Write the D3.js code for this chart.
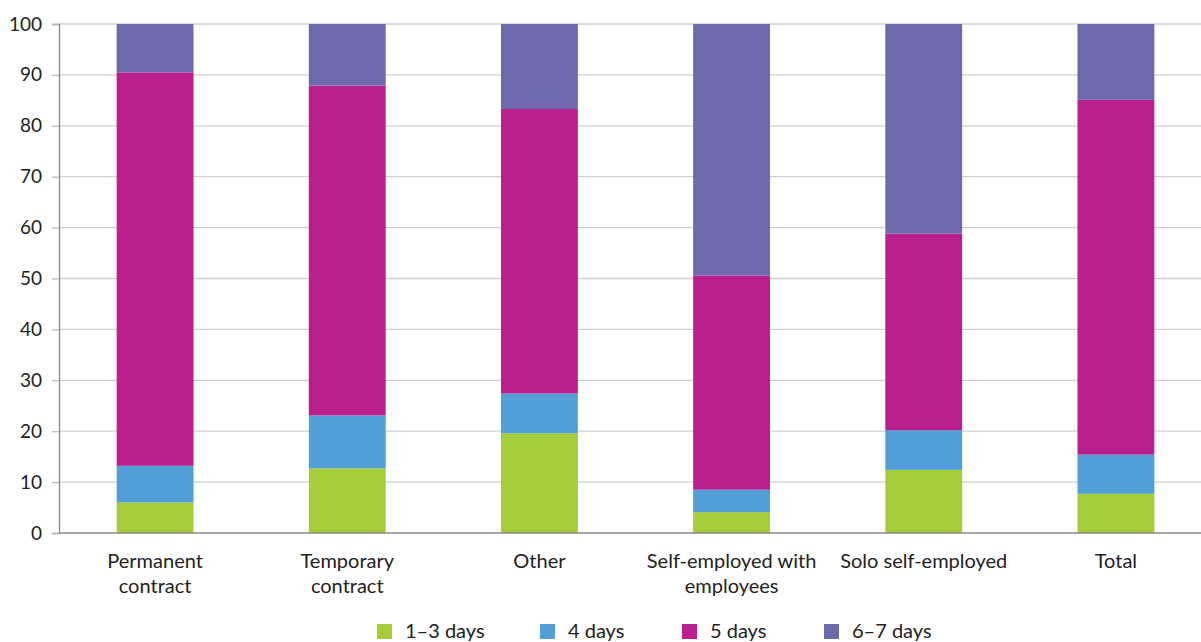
<!DOCTYPE html>
<html><head><meta charset="utf-8">
<script src="https://cdn.jsdelivr.net/npm/d3@7"></script>
<style>body{margin:0;background:#fff}svg{display:block}text{font-family:Lato,"Noto Sans",sans-serif;fill:#222}</style>
</head><body>
<svg id="c" width="1201" height="642"></svg>
<script>
const categories = ["Permanent contract","Temporary contract","Other","Self-employed with employees","Solo self-employed","Total"];
const categoryLines = [["Permanent","contract"],["Temporary","contract"],["Other"],["Self-employed with","employees"],["Solo self-employed"],["Total"]];
const seriesNames = ["1–3 days","4 days","5 days","6–7 days"];
const days1to3 = [6.0, 12.7, 19.6, 4.1, 12.4, 7.7];
const days4 = [7.2, 10.4, 7.8, 4.4, 7.8, 7.7];
const days5 = [77.3, 64.8, 55.9, 42.1, 38.6, 69.7];
const days6to7 = [9.5, 12.1, 16.7, 49.4, 41.2, 14.9];
const yTicks = [0,10,20,30,40,50,60,70,80,90,100];
const colors = ["#a5cd39","#519fd6","#ba208c","#6e69ad"];

(function(){
const svg = d3.select("#c");
const mL = 59, mR = 1212, mT = 24, mB = 533;
const x = d3.scaleBand().domain(categories).range([mL, mR]).paddingInner(0.6).paddingOuter(0.3);
const y = d3.scaleLinear().domain([0,100]).range([mB, mT]);

svg.append("g").selectAll("line").data(yTicks.filter(d=>d>0)).join("line")
  .attr("x1", mL).attr("x2", 1201).attr("y1", d=>y(d)).attr("y2", d=>y(d))
  .attr("stroke", "#cfcfcf").attr("stroke-width", 1.3);

const yAxis = svg.append("g").attr("transform", `translate(${mL},0)`)
  .call(d3.axisLeft(y).tickValues(yTicks).tickSize(7).tickPadding(10));
yAxis.select(".domain").attr("stroke", "#888").attr("stroke-width", 1.3);
yAxis.selectAll(".tick line").attr("stroke", "#bbb").attr("stroke-width", 1.3);
yAxis.selectAll(".tick text").attr("font-size", 19).attr("fill", "#222").style("font-family", "Lato,'Noto Sans',sans-serif");

const table = categories.map((c,i)=>({cat:c, s0:days1to3[i], s1:days4[i], s2:days5[i], s3:days6to7[i]}));
const stack = d3.stack().keys(["s0","s1","s2","s3"])(table);
svg.append("g").selectAll("g").data(stack).join("g").attr("fill", (d,i)=>colors[i])
  .selectAll("rect").data(d=>d).join("rect")
  .attr("x", d=>x(d.data.cat)).attr("width", x.bandwidth())
  .attr("y", d=>y(d[1])).attr("height", d=>y(d[0])-y(d[1]));

svg.append("line").attr("x1", mL).attr("x2", 1201).attr("y1", mB).attr("y2", mB)
  .attr("stroke", "#888").attr("stroke-width", 1.3);

const lab = svg.append("g").selectAll("text").data(categories).join("text")
  .attr("text-anchor", "middle").attr("font-size", 20)
  .attr("x", d=>x(d)+x.bandwidth()/2).attr("y", 568);
lab.selectAll("tspan").data((d,i)=>categoryLines[i]).join("tspan")
  .attr("x", function(){return this.parentNode.getAttribute("x");})
  .attr("dy", (d,i)=>i===0?0:25).text(d=>d);

const legX = [377, 540, 682, 824];
const leg = svg.append("g").selectAll("g").data(seriesNames).join("g")
  .attr("transform", (d,i)=>`translate(${legX[i]},624)`);
leg.append("rect").attr("width", 15).attr("height", 15).attr("fill", (d,i)=>colors[i]);
leg.append("text").attr("x", 28).attr("y", 14).attr("font-size", 20).text(d=>d);
})();
</script>
</body></html>
